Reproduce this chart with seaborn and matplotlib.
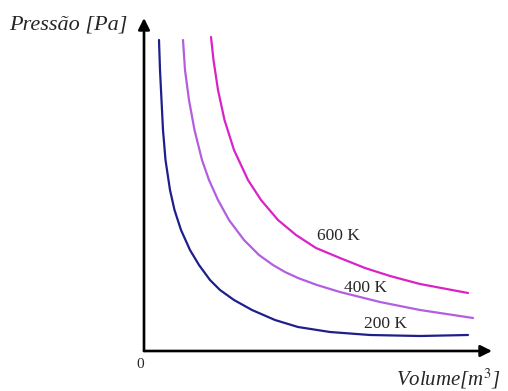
import numpy as np
import pandas as pd
import matplotlib
matplotlib.use("Agg")
import matplotlib.pyplot as plt
import seaborn as sns

# Values (arbitrary units: volume, pressure)
v_200 = [1.5, 1.6, 1.75, 1.9, 2.15, 2.6, 3.05, 3.7, 4.6, 5.5, 6.6, 7.6, 9.0, 10.8,
         13.1, 15.4, 18.6, 22.6, 27.6, 32.4]
p_200 = [31.1, 28.1, 25.1, 22.1, 19.1, 16.1, 14.1, 12.1, 10.1, 8.6, 7.1, 6.1, 5.1, 4.1,
         3.1, 2.4, 1.9, 1.6, 1.5, 1.6]

v_400 = [3.9, 4.1, 4.5, 5.05, 5.8, 6.5, 7.4, 8.5, 10.0, 11.5, 12.9, 14.1, 15.4, 17.3,
         19.6, 23.6, 27.6, 32.9]
p_400 = [31.1, 28.1, 25.1, 22.1, 19.1, 17.1, 15.1, 13.1, 11.1, 9.6, 8.6, 7.9, 7.3, 6.6,
         5.9, 4.9, 4.1, 3.3]

v_600 = [6.7, 6.95, 7.4, 8.05, 9.0, 10.4, 11.7, 13.4, 15.2, 17.2, 19.6, 22.1, 24.6,
         27.6, 32.4]
p_600 = [31.4, 29.1, 26.1, 23.1, 20.1, 17.1, 15.1, 13.1, 11.6, 10.3, 9.3, 8.3, 7.5,
         6.7, 5.8]

labels = ["200 K", "400 K", "600 K"]
colors = {"200 K": "#1f1f8c", "400 K": "#b35ee0", "600 K": "#d923c6"}

frames = []
for lab, v, p in zip(labels, [v_200, v_400, v_600], [p_200, p_400, p_600]):
    frames.append(pd.DataFrame({"V": v, "P": p, "T": lab}))
df = pd.concat(frames, ignore_index=True)

sns.set_theme(style="white")
plt.rcParams["font.family"] = ["Liberation Serif", "DejaVu Serif"]
plt.rcParams["mathtext.fontset"] = "stix"

fig = plt.figure(figsize=(5.08, 3.91), dpi=100)
ax = fig.add_axes([0, 0, 1, 1])
ax.set_xlim(-14.4, 36.4)
ax.set_ylim(-4.0, 35.1)
ax.axis("off")

sns.lineplot(data=df, x="V", y="P", hue="T", palette=colors, sort=False,
             estimator=None, linewidth=1.6, legend=False, ax=ax,
             solid_joinstyle="round", solid_capstyle="round")

# axes with arrows
arrow_kw = dict(arrowstyle="-|>", color="black", lw=1.9, mutation_scale=17,
                shrinkA=0, shrinkB=0)
ax.annotate("", xy=(0, 33.3), xytext=(0, 0), arrowprops=arrow_kw)
ax.annotate("", xy=(34.8, 0), xytext=(0, 0), arrowprops=arrow_kw)

ax.text(-7.6, 32.6, "Pressão [Pa]", fontsize=16, style="italic",
        ha="center", va="center")
ax.text(30.4, -2.75, "Volume[m$^3$]", fontsize=15, style="italic",
        ha="center", va="center")
ax.text(-0.4, -1.4, "0", fontsize=11, ha="center", va="center")

ax.text(19.4, 11.5, "600 K", fontsize=12.5, ha="center", va="center")
ax.text(22.1, 6.3, "400 K", fontsize=12.5, ha="center", va="center")
ax.text(24.1, 2.7, "200 K", fontsize=12.5, ha="center", va="center")

fig.savefig("out.png", dpi=100)
